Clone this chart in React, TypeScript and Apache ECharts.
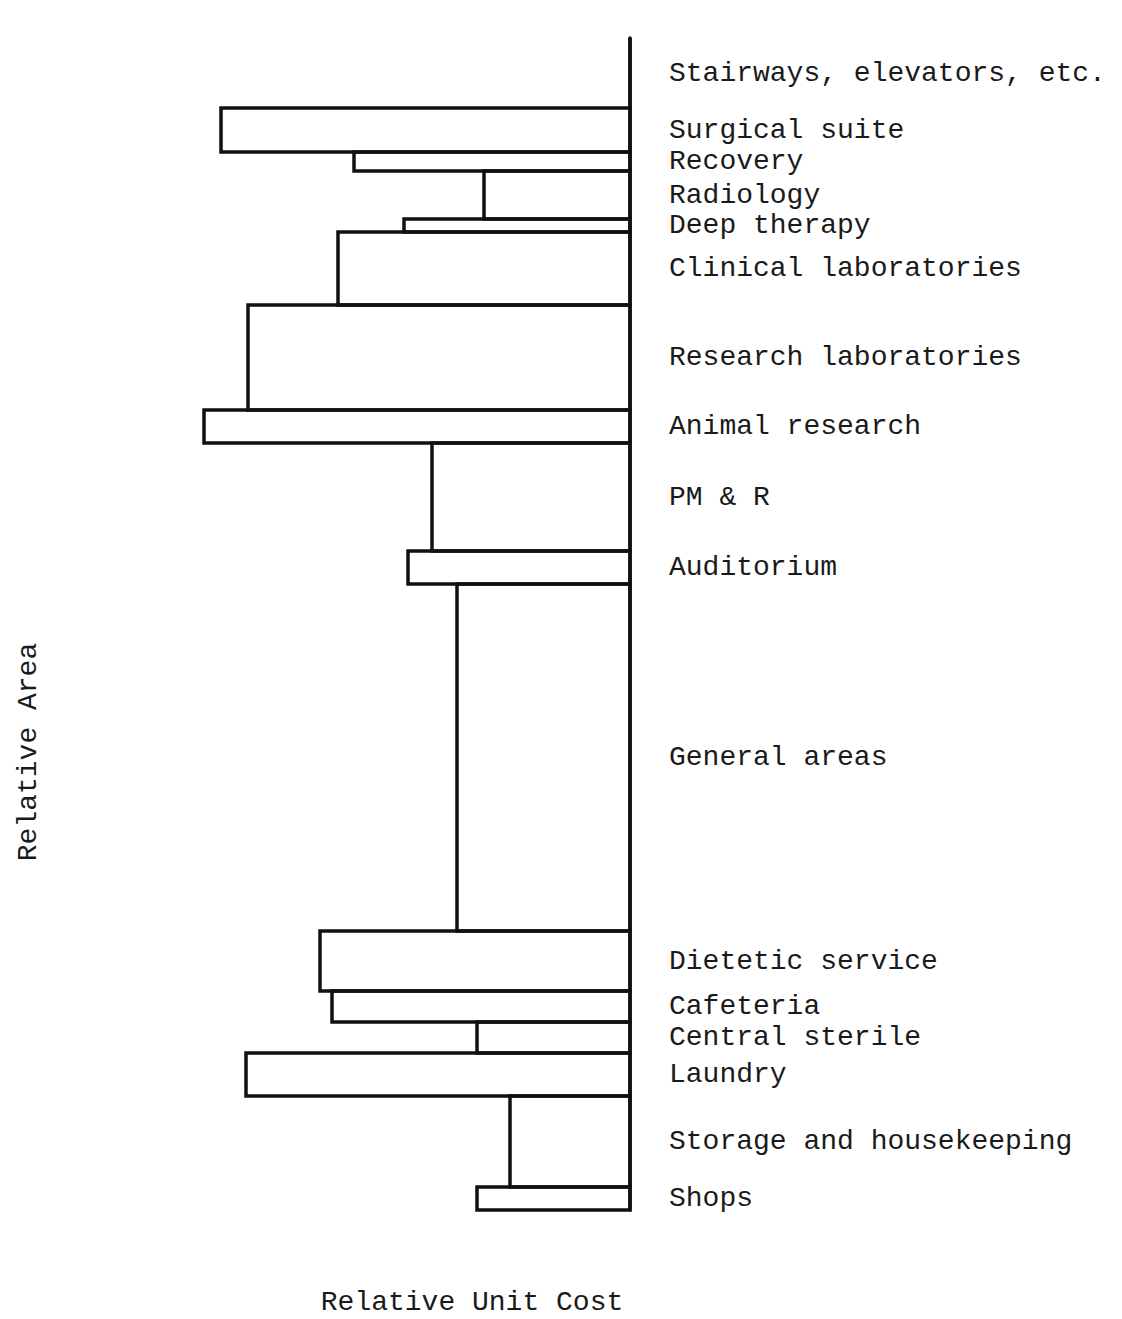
import React, { useEffect, useRef } from "react";
import * as echarts from "echarts";

const categories = [
  "Stairways, elevators, etc.",
  "Surgical suite",
  "Recovery",
  "Radiology",
  "Deep therapy",
  "Clinical laboratories",
  "Research laboratories",
  "Animal research",
  "PM & R",
  "Auditorium",
  "General areas",
  "Dietetic service",
  "Cafeteria",
  "Central sterile",
  "Laundry",
  "Storage and housekeeping",
  "Shops",
];
const relativeArea = [7.0, 4.4, 1.9, 4.8, 1.3, 7.3, 10.5, 3.3, 10.8, 3.3, 34.7, 6.0, 3.1, 3.1, 4.3, 9.1, 2.3];
const relativeUnitCost = [0, 4.09, 2.76, 1.46, 2.26, 2.92, 3.82, 4.26, 1.98, 2.22, 1.73, 3.1, 2.98, 1.53, 3.84, 1.2, 1.53];
const xAxisTitle = "Relative Unit Cost";
const yAxisTitle = "Relative Area";

const FONT = '28px "Liberation Mono", "DejaVu Sans Mono", monospace';

export default function App() {
  const ref = useRef<HTMLDivElement>(null);
  useEffect(() => {
    if (!ref.current) return;
    const chart = echarts.init(ref.current, undefined, { renderer: "svg" });
    let acc = 0;
    const data = relativeArea.map((a, i) => {
      const start = acc;
      acc += a;
      return [relativeUnitCost[i], start, acc];
    });
    const total = acc;
    chart.setOption({
      animation: false,
      backgroundColor: "#ffffff",
      grid: { left: 130, right: 492, top: 38, bottom: 109 },
      xAxis: {
        type: "value",
        min: 0,
        max: 5,
        inverse: true,
        axisLine: { show: false },
        axisTick: { show: false },
        axisLabel: { show: false },
        splitLine: { show: false },
      },
      yAxis: {
        type: "value",
        min: 0,
        max: total,
        inverse: true,
        position: "right",
        axisLine: { show: true, onZero: false, lineStyle: { color: "#111", width: 3.5 } },
        axisTick: { show: false },
        axisLabel: { show: false },
        splitLine: { show: false },
      },
      graphic: [
        {
          type: "text",
          x: 472,
          y: 1302,
          style: { text: xAxisTitle, font: FONT, fill: "#1a1a1a", align: "center", verticalAlign: "middle" },
        },
        {
          type: "text",
          x: 28,
          y: 752,
          rotation: Math.PI / 2,
          style: { text: yAxisTitle, font: FONT, fill: "#1a1a1a", align: "center", verticalAlign: "middle" },
        },
      ],
      series: [
        {
          type: "custom",
          data,
          encode: { x: [0], y: [1, 2] },
          renderItem: (params: any, api: any) => {
            const cost = api.value(0);
            const start = api.value(1);
            const end = api.value(2);
            const p0 = api.coord([cost, start]);
            const p1 = api.coord([0, end]);
            const mid = api.coord([0, (start + end) / 2]);
            return {
              type: "group",
              children: [
                {
                  type: "rect",
                  shape: { x: p0[0], y: p0[1], width: p1[0] - p0[0], height: p1[1] - p0[1] },
                  style: { fill: "none", stroke: "#111", lineWidth: 3.5 },
                },
                {
                  type: "text",
                  x: mid[0] + 39,
                  y: mid[1],
                  style: {
                    text: categories[params.dataIndex],
                    font: FONT,
                    fill: "#1a1a1a",
                    align: "left",
                    verticalAlign: "middle",
                  },
                },
              ],
            };
          },
        },
      ],
    });
    return () => chart.dispose();
  }, []);
  return <div ref={ref} style={{ position: "absolute", left: 0, top: 0, width: 1122, height: 1319 }} />;
}
